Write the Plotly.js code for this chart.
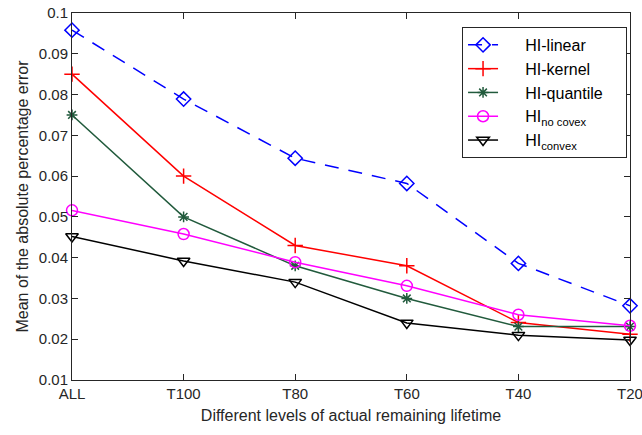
<!DOCTYPE html>
<html>
<head>
<meta charset="utf-8">
<script src="https://cdn.plot.ly/plotly-3.0.1.min.js"></script>
<style>html,body{margin:0;padding:0;background:#fff;}#chart{width:642px;height:435px;}</style>
</head>
<body>
<div id="chart"></div>
<script>
const categories = ['ALL', 'T100', 'T80', 'T60', 'T40', 'T20'];
const hiLinear   = [0.0958, 0.0789, 0.0644, 0.0582, 0.0386, 0.0282];
const hiKernel   = [0.085, 0.060, 0.043, 0.038, 0.0241, 0.0212];
const hiQuantile = [0.075, 0.050, 0.038, 0.030, 0.0231, 0.0231];
const hiNoCovex  = [0.0516, 0.0458, 0.0389, 0.0331, 0.0260, 0.0233];
const hiConvex   = [0.0452, 0.0392, 0.0340, 0.0240, 0.0210, 0.0198];
const seriesNames = ['HI-linear', 'HI-kernel', 'HI-quantile', 'HI<sub>no covex</sub>', 'HI<sub>convex</sub>'];
const yTicks = [0.01, 0.02, 0.03, 0.04, 0.05, 0.06, 0.07, 0.08, 0.09, 0.1];
const yTickText = ['0.01', '0.02', '0.03', '0.04', '0.05', '0.06', '0.07', '0.08', '0.09', '0.1'];

const font = 'Liberation Sans, Arial, Helvetica, sans-serif';
const padL = '\u00a0\u00a0\u00a0\u00a0\u00a0';
const padR = '\u00a0\u00a0\u00a0\u00a0';

function tr(name, y, color, symbol, dash, size) {
  return {
    x: categories, y: y, name: padL + name + padR, type: 'scatter', mode: 'lines+markers',
    cliponaxis: false,
    line: {color: color, width: 1.5, dash: dash || 'solid'},
    marker: {symbol: symbol, size: size || 10, color: color, line: {color: color, width: 1.5}}
  };
}

const data = [
  tr(seriesNames[0], hiLinear, '#0000ff', 'diamond-open', '14px,10px', 11),
  tr(seriesNames[1], hiKernel, '#ff0000', 'cross-thin-open', null, 11),
  tr(seriesNames[2], hiQuantile, '#215a3c', 'asterisk-open', null, 9),
  tr(seriesNames[3], hiNoCovex, '#ff00ff', 'circle-open', null, 11),
  tr(seriesNames[4], hiConvex, '#000000', 'triangle-down-open', null, 11)
];

const layout = {
  width: 642, height: 435,
  margin: {l: 72, r: 12, t: 13, b: 55},
  paper_bgcolor: '#fff', plot_bgcolor: '#fff',
  font: {family: font, size: 14, color: '#262626'},
  showlegend: true,
  legend: {
    x: 0.699, y: 0.962, xanchor: 'left', yanchor: 'top',
    bordercolor: '#262626', borderwidth: 1, bgcolor: '#fff',
    font: {family: font, size: 16, color: '#000'},
    tracegroupgap: 0
  },
  xaxis: {
    type: 'category', range: [0, 5],
    showline: true, linecolor: '#262626', linewidth: 1, mirror: 'ticks',
    ticks: 'inside', ticklen: 6, tickcolor: '#262626',
    showgrid: false, zeroline: false,
    tickfont: {family: font, size: 15, color: '#262626'},
    title: {text: 'Different levels of actual remaining lifetime', font: {family: font, size: 16, color: '#262626'}, standoff: 8}
  },
  yaxis: {
    range: [0.01, 0.1],
    tickvals: yTicks, ticktext: yTickText,
    showline: true, linecolor: '#262626', linewidth: 1, mirror: 'ticks',
    ticks: 'inside', ticklen: 6, tickcolor: '#262626',
    showgrid: false, zeroline: false,
    tickfont: {family: font, size: 15, color: '#262626'},
    title: {text: 'Mean of the absolute percentage error', font: {family: font, size: 16, color: '#262626'}, standoff: 6}
  }
};

Plotly.newPlot('chart', data, layout, {displayModeBar: false, staticPlot: true});
</script>
</body>
</html>
